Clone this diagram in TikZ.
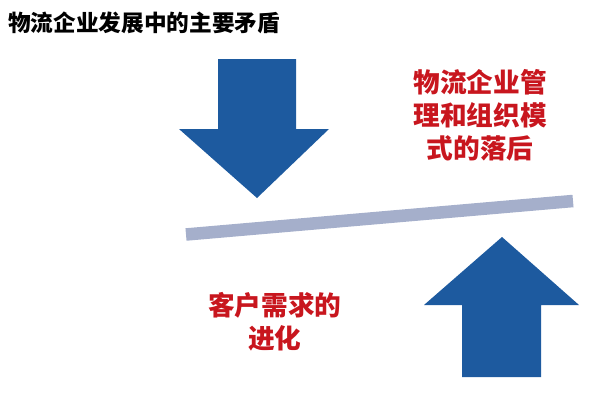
\documentclass[tikz,border=0pt]{standalone}
\usepackage{fontspec}
\newfontfamily\cjk{Noto Sans CJK SC}
\usetikzlibrary{positioning}
\definecolor{arrowblue}{HTML}{1D5A9F}
\definecolor{textred}{HTML}{C8161E}
\definecolor{bargray}{HTML}{A5AFCB}

\begin{document}
\begin{tikzpicture}[x=0.75pt,y=-0.75pt,
    redlabel/.style={text=textred, align=center, inner sep=0pt,
      font=\cjk\bfseries\fontsize{20}{24.75}\selectfont}]
    \useasboundingbox (0,0) rectangle (612,411);

    % Title
    \node[anchor=west, inner sep=0pt, font=\cjk\bfseries\fontsize{17}{20}\selectfont] (title) at (8,23) {物流企业发展中的主要矛盾};

    % Arrows
    \fill[arrowblue] (218,59) -- (296,59) -- (296,129) -- (329,129) -- (257,198)
      -- (179,129) -- (218,129) -- cycle;
    \fill[arrowblue] (462,377) -- (541,377) -- (541,305) -- (579,305) -- (502,237)
      -- (424,305) -- (462,305) -- cycle;

    % Lever
    \coordinate (barL) at (186,234.5);
    \coordinate (barR) at (573,201);
    \draw[bargray, line width=9.4pt] (barL) -- (barR);

    % Labels
    \node[redlabel] (lag) at (480,115) {物流企业管\\理和组织模\\式的落后};
    \node[redlabel] (demand) at (275,322) {客户需求的\\进化};
\end{tikzpicture}
\end{document}
